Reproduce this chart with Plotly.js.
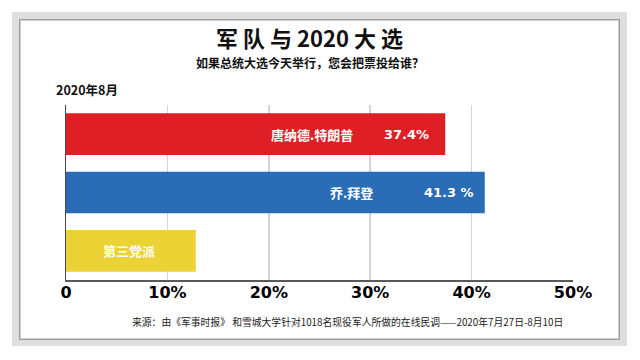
<!DOCTYPE html>
<html>
<head>
<meta charset="utf-8">
<script src="https://cdn.plot.ly/plotly-3.0.1.min.js"></script>
<style>
  html, body { margin: 0; padding: 0; background: #ffffff; }
  #outer { position: absolute; left: 12px; top: 12px; width: 615px; height: 334px; background: #dedede; }
  #inner { position: absolute; left: 19px; top: 19px; width: 601px; height: 321px; background: #ffffff; border: 1px solid #9c9c9c; box-sizing: border-box; box-shadow: inset 0 0 0 1px #d0d0d0; }
  #chart { position: absolute; left: 0; top: 0; width: 640px; height: 360px; }
</style>
</head>
<body>
<div id="outer"></div>
<div id="inner"></div>
<div id="chart"></div>
<script>
// ---- data ----
const candidates = ["唐纳德.特朗普", "乔.拜登", "第三党派"];
const shares = [37.4, 41.3, 12.8];
const valueLabels = ["37.4%", "41.3 %", ""];
const barColors = ["#de1f26", "#2a6cb6", "#ebd235"];
const tickValues = [0, 10, 20, 30, 40, 50];
const tickLabels = ["0", "10%", "20%", "30%", "40%", "50%"];
const titleText = "军 队 与 2020 大 选";
const subtitleText = "如果总统大选今天举行，您会把票投给谁？";
const dateText = "2020年8月";
const sourceText = "来源：由《军事时报》 和雪城大学针对1018名现役军人所做的在线民调——2020年7月27日-8月10日";

// ---- layout helpers ----
const W = 640, H = 360;
const M = { l: 66, r: 67, t: 105, b: 80 };
const pw = W - M.l - M.r, ph = H - M.t - M.b;
const px2x = px => (px - M.l) / pw;
const py2y = py => (H - M.b - py) / ph;

const CJK = '"Noto Sans CJK SC", "Noto Sans", sans-serif';
const HEAVY = '"DejaVu Sans", sans-serif';

const trace = {
  type: "bar",
  orientation: "h",
  y: candidates,
  x: shares,
  marker: { color: barColors, line: { width: 0 } },
  hoverinfo: "none"
};

// label placement styles (offsets from bar end, in px)
const nameShift = [-90, -110, null];
const valueShift = [-14, -9, null];

const annotations = [];
candidates.forEach((c, i) => {
  if (nameShift[i] === null) {
    annotations.push({ xref: "x", yref: "y", x: shares[i] / 2, y: c, text: c, showarrow: false,
      xanchor: "center", yanchor: "middle", xshift: -2,
      font: { family: CJK, size: 13, color: "#ffffff", weight: 700 } });
  } else {
    annotations.push({ xref: "x", yref: "y", x: shares[i], y: c, text: c, showarrow: false,
      xanchor: "right", yanchor: "middle", xshift: nameShift[i],
      font: { family: CJK, size: 13, color: "#ffffff", weight: 700 } });
    annotations.push({ xref: "x", yref: "y", x: shares[i], y: c, text: valueLabels[i], showarrow: false,
      xanchor: "right", yanchor: "middle", xshift: valueShift[i],
      font: { family: HEAVY, size: 13, color: "#ffffff", weight: 700 } });
  }
});

annotations.push({ xref: "paper", yref: "paper", x: px2x(309), y: py2y(37), text: titleText, showarrow: false,
  xanchor: "center", yanchor: "middle", font: { family: CJK, size: 22, color: "#111111", weight: 700 } });
annotations.push({ xref: "paper", yref: "paper", x: px2x(310), y: py2y(62.5), text: subtitleText, showarrow: false,
  xanchor: "center", yanchor: "middle", font: { family: CJK, size: 12, color: "#111111", weight: 700 } });
annotations.push({ xref: "paper", yref: "paper", x: px2x(54), y: py2y(89), text: dateText, showarrow: false,
  xanchor: "left", yanchor: "middle", font: { family: CJK, size: 12.5, color: "#111111", weight: 700 } });
annotations.push({ xref: "paper", yref: "paper", x: px2x(347), y: py2y(322), text: sourceText, showarrow: false,
  xanchor: "center", yanchor: "middle", font: { family: CJK, size: 9.8, color: "#222222" } });

const layout = {
  width: W, height: H,
  margin: M,
  paper_bgcolor: "rgba(0,0,0,0)",
  plot_bgcolor: "rgba(0,0,0,0)",
  showlegend: false,
  bargap: 0.285,
  xaxis: {
    range: [0, 50],
    tickvals: tickValues,
    ticktext: tickLabels,
    showgrid: true,
    gridcolor: "#d4d4d4",
    gridwidth: 1.5,
    zeroline: false,
    showline: true,
    linecolor: "#5a5a5a",
    linewidth: 1.5,
    ticks: "",
    ticklabelstandoff: -3,
    tickfont: { family: HEAVY, size: 16, color: "#000000", weight: 700 },
    fixedrange: true
  },
  yaxis: {
    type: "category",
    autorange: "reversed",
    showticklabels: false,
    showgrid: false,
    zeroline: false,
    showline: true,
    linecolor: "#4a4a4a",
    linewidth: 1.5,
    ticks: "",
    fixedrange: true
  },
  annotations: annotations
};

Plotly.newPlot("chart", [trace], layout, { displayModeBar: false, staticPlot: true });
</script>
</body>
</html>
